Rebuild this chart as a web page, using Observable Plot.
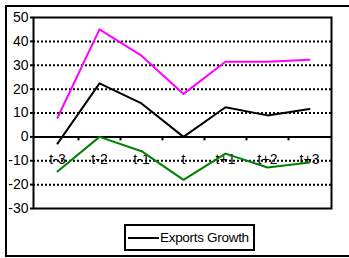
<!DOCTYPE html>
<html>
<head>
<meta charset="utf-8">
<script src="https://cdn.jsdelivr.net/npm/d3@7"></script>
<script src="https://cdn.jsdelivr.net/npm/@observablehq/plot@0.6"></script>
<style>
  html, body { margin: 0; padding: 0; background: #fff; }
  #wrap { position: relative; width: 349px; height: 258px; overflow: hidden; font-family: "Liberation Sans", Arial, sans-serif; }
  #wrap svg { position: absolute; left: 0; top: 0; }
  #outer { position: absolute; left: 5px; top: 5px; width: 360px; height: 248px; border: 2px solid #000; box-sizing: content-box; pointer-events: none; }
  #legend { position: absolute; left: 124px; top: 224px; width: 127px; height: 23px; border: 2px solid #000; background: #fff; display: flex; align-items: center; font-size: 13.5px; letter-spacing: -0.3px; color: #000; }
  #legend .sw { display: inline-block; width: 31px; height: 0; border-top: 2px solid #000; margin-left: 2px; margin-right: 1px; }
</style>
</head>
<body>
<div id="wrap">
  <div id="outer"></div>
  <div id="legend"><span class="sw"></span><span>Exports Growth</span></div>
</div>
<script>
const categories = ["t-3", "t-2", "t-1", "t", "t+1", "t+2", "t+3"];
const magentaSeries = [8, 45, 34, 18, 31.5, 31.5, 32.3];
const exportsGrowth = [-2.8, 22.4, 14, 0, 12.4, 9, 11.7];
const greenSeries = [-14.5, 0, -6, -18, -7, -12.8, -10.7];
const yTicks = [-30, -20, -10, 0, 10, 20, 30, 40, 50];
const gridValues = [40, 30, 20, 10, -10, -20];

const rows = (vals, name) => categories.map((c, i) => ({cat: c, value: vals[i], series: name}));
const magentaData = rows(magentaSeries, "Magenta");
const blackData = rows(exportsGrowth, "Exports Growth");
const greenData = rows(greenSeries, "Green");

const W = 349, H = 258;
const xRange = [36, 330];
const step = (xRange[1] - xRange[0]) / categories.length;

const chart = Plot.plot({
  width: W,
  height: H,
  marginLeft: 33,
  marginRight: 18,
  marginTop: 17,
  marginBottom: 50,
  style: {fontFamily: "'Liberation Sans', Arial, sans-serif", color: "#000", background: "transparent"},
  x: {type: "point", domain: categories, range: xRange, padding: 0.5, label: null},
  y: {domain: [-30, 50], label: null},
  marks: [
    Plot.ruleY(gridValues, {stroke: "#000", strokeWidth: 2, strokeDasharray: "2,2"}),
    Plot.axisY({ticks: yTicks, tickSize: 3, tickPadding: 2, fontSize: 14, tickFormat: d => String(d), strokeWidth: 2, label: null}),
    Plot.axisX({anchor: "bottom", tickSize: 0, tickPadding: 0, fontSize: 14, dy: -54, label: null}),
    Plot.ruleY([0], {stroke: "#000", strokeWidth: 2}),
    Plot.ruleX(categories.slice(0, -1), {x: d => d, y1: 0, y2: 0, dx: step / 2, insetBottom: -4, stroke: "#000", strokeWidth: 2}),
    Plot.frame({stroke: "#000", strokeWidth: 2}),
    Plot.line(magentaData, {x: "cat", y: "value", stroke: "#ff00ff", strokeWidth: 2}),
    Plot.line(blackData, {x: "cat", y: "value", stroke: "#000", strokeWidth: 2}),
    Plot.line(greenData, {x: "cat", y: "value", stroke: "#008000", strokeWidth: 2})
  ]
});
document.getElementById("wrap").prepend(chart);
</script>
</body>
</html>
